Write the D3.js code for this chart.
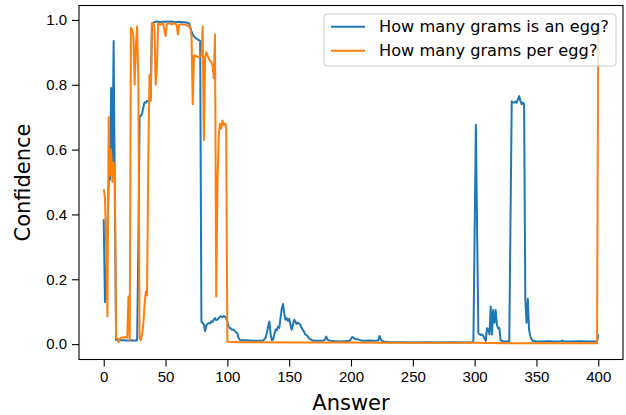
<!DOCTYPE html>
<html>
<head>
	<title>Answer Confidence</title>
	<meta charset="utf-8">
	<script src="https://cdnjs.cloudflare.com/ajax/libs/d3/7.8.5/d3.min.js"></script>
	<style type="text/css">
		body { margin: 0; background: #fff; }
		svg { font-family: "DejaVu Sans", sans-serif; }
		.line { fill: none; stroke-width: 2px; stroke-linejoin: round; }
		.axis path, .axis line { stroke: #000; stroke-width: 1.1px; }
		.axis text { font-size: 15px; fill: #000; }
	</style>
</head>
<body>
	<script type="text/javascript">

		let seriesNames = ['How many grams is an egg?', 'How many grams per egg?'];
		let seriesColors = ['#1f77b4', '#ff7f0e'];
		let xTicks = [0, 50, 100, 150, 200, 250, 300, 350, 400];
		let yTicks = [0, 0.2, 0.4, 0.6, 0.8, 1.0];

		// [answer, confidence]
		let isAnEgg = [
			[0,0.385],[1,0.13],[2,0.2],[3,0.35],[4,0.5],[5,0.51],[6,0.79],[7,0.52],[8,0.935],[9,0.45],
			[10,0.013],[12,0.014],[14,0.012],[16,0.012],[18,0.011],[20,0.011],[22,0.012],[24,0.011],[26,0.011],[27,0.012],
			[28,0.3],[29,0.70],[30,0.705],[31,0.71],[32,0.73],[33,0.745],[34,0.745],[35,0.75],[36,0.75],[37,0.75],[38,0.76],
			[39,0.99],[41,0.993],[43,0.995],[46,0.993],[49,0.995],[52,0.994],[55,0.995],[58,0.993],[61,0.994],[64,0.993],
			[67,0.992],[69,0.99],[70,0.975],[71,0.965],[72,0.955],[73,0.95],[74,0.945],[76,0.94],[78,0.935],
			[79,0.07],[80,0.065],[81,0.06],[82,0.04],[83,0.058],[84,0.062],[85,0.065],[86,0.064],[87,0.07],[88,0.068],
			[89,0.075],[90,0.08],[91,0.074],[92,0.076],[93,0.08],[94,0.084],[95,0.086],[96,0.083],[97,0.087],[98,0.085],
			[99,0.08],[100,0.07],[101,0.054],[102,0.05],[103,0.047],[104,0.044],[105,0.045],[106,0.04],[107,0.036],[108,0.034],
			[109,0.02],[110,0.013],[112,0.012],[115,0.012],[118,0.011],[122,0.01],[126,0.01],[129,0.011],[131,0.02],[132,0.035],
			[133,0.055],[134,0.07],[135,0.03],[136,0.012],[137,0.014],[138,0.03],[139,0.045],[140,0.042],[141,0.054],[142,0.05],
			[143,0.08],[144,0.11],[145,0.124],[146,0.095],[147,0.075],[148,0.08],[149,0.072],[150,0.078],[151,0.06],[152,0.044],
			[153,0.06],[154,0.075],[155,0.07],[156,0.062],[157,0.066],[158,0.064],[159,0.06],[160,0.05],[161,0.044],[162,0.038],
			[163,0.03],[164,0.028],[165,0.024],[166,0.018],[167,0.015],[169,0.011],[172,0.01],[175,0.01],[178,0.011],[179,0.015],
			[180,0.023],[181,0.014],[183,0.01],[187,0.009],[191,0.008],[195,0.009],[199,0.01],[200,0.016],[201,0.022],[202,0.02],
			[203,0.016],[205,0.015],[207,0.013],[209,0.01],[212,0.01],[215,0.011],[219,0.01],[222,0.011],[223,0.025],[224,0.016],
			[225,0.01],[227,0.007],[232,0.006],[240,0.006],[250,0.005],[260,0.006],[270,0.005],[280,0.006],[290,0.005],[298,0.006],
			[299,0.01],[301,0.677],[303,0.034],[304,0.03],[305,0.028],[306,0.03],[307,0.025],[308,0.018],[309,0.01],[310,0.049],
			[311,0.045],[312,0.03],[313,0.116],[314,0.03],[315,0.105],[316,0.066],[317,0.105],[318,0.06],[319,0.048],[320,0.05],
			[321,0.012],[323,0.008],[326,0.008],[328,0.008],[330,0.749],[331,0.745],[332,0.745],[333,0.748],[334,0.745],[335,0.755],
			[336,0.765],[337,0.75],[338,0.74],[339,0.745],[340,0.74],[341,0.137],[342,0.066],[343,0.14],[344,0.045],[345,0.025],
			[346,0.015],[347,0.01],[350,0.008],[355,0.008],[360,0.009],[365,0.008],[370,0.009],[371,0.011],[372,0.009],[378,0.008],
			[385,0.009],[392,0.008],[399,0.008],[400,0.03]
		];

		let perEgg = [
			[0,0.478],[1,0.45],[2,0.3],[3,0.085],[4,0.70],[5,0.52],[6,0.6],[7,0.5],[8,0.56],[9,0.52],
			[10,0.02],[11,0.015],[12,0.006],[13,0.016],[14,0.02],[16,0.02],[18,0.022],[19,0.02],[20,0.147],[21,0.012],
			[22,0.976],[23,0.97],[24,0.95],[25,0.80],[26,0.92],[27,0.98],[28,0.81],[29,0.02],[30,0.012],[31,0.03],
			[32,0.06],[33,0.12],[34,0.162],[35,0.15],[36,0.55],[37,0.83],[38,0.75],[39,0.99],[40,0.99],[41,0.98],
			[42,0.8],[43,0.85],[44,0.99],[46,0.985],[48,0.99],[50,0.95],[51,0.986],[53,0.99],[55,0.986],[57,0.99],
			[59,0.985],[60,0.955],[61,0.985],[63,0.987],[66,0.985],[68,0.982],[70,0.978],[71,0.95],[72,0.74],[73,0.89],
			[75,0.888],[77,0.885],[79,0.89],[80,0.98],[81,0.63],[82,0.885],[83,0.9],[85,0.88],[86,0.875],[87,0.87],
			[88,0.86],[89,0.82],[90,0.955],[91,0.147],[92,0.5],[93,0.64],[94,0.68],[95,0.665],[96,0.69],[97,0.675],
			[98,0.68],[99,0.675],[100,0.007],[110,0.006],[125,0.006],[150,0.005],[175,0.005],[200,0.005],[225,0.004],
			[250,0.004],[275,0.004],[300,0.004],[325,0.003],[350,0.003],[375,0.003],[399,0.003],[400,0.99]
		];

		let series = [isAnEgg, perEgg];

		let width = 626, height = 415;
		let plotLeft = 79, plotRight = 623, plotTop = 5.5, plotBottom = 359.5;

		let svg = d3.select('body').append('svg')
			.attr('width', width)
			.attr('height', height);

		let xScale = d3.scaleLinear().domain([-20, 420]).range([plotLeft, plotRight]);
		let yScale = d3.scaleLinear().domain([-0.0475, 1.0445]).range([plotBottom, plotTop]);

		svg.append('clipPath').attr('id', 'plot')
			.append('rect')
			.attr('x', plotLeft).attr('y', plotTop)
			.attr('width', plotRight - plotLeft).attr('height', plotBottom - plotTop);

		let line = d3.line()
			.x(d => xScale(d[0]))
			.y(d => yScale(d[1]));

		svg.append('g').attr('clip-path', 'url(#plot)')
			.selectAll('path').data(series)
			.enter().append('path')
			.attr('class', 'line')
			.attr('d', line)
			.attr('stroke', (d, i) => seriesColors[i]);

		// axes
		svg.append('g').attr('class', 'axis')
			.attr('transform', `translate(0,${plotBottom})`)
			.call(d3.axisBottom(xScale).tickValues(xTicks).tickSize(7).tickPadding(5).tickSizeOuter(0))
			.select('.domain').remove();

		svg.append('g').attr('class', 'axis')
			.attr('transform', `translate(${plotLeft},0)`)
			.call(d3.axisLeft(yScale).tickValues(yTicks).tickFormat(d3.format('.1f')).tickSize(7).tickPadding(5).tickSizeOuter(0))
			.select('.domain').remove();

		svg.append('rect')
			.attr('x', plotLeft).attr('y', plotTop)
			.attr('width', plotRight - plotLeft).attr('height', plotBottom - plotTop)
			.attr('fill', 'none')
			.attr('stroke', '#000')
			.attr('stroke-width', 1.1);

		svg.append('text')
			.attr('x', (plotLeft + plotRight) / 2)
			.attr('y', 410)
			.attr('text-anchor', 'middle')
			.attr('font-size', 21)
			.text('Answer');

		svg.append('text')
			.attr('transform', `translate(30,${(plotTop + plotBottom) / 2}) rotate(-90)`)
			.attr('text-anchor', 'middle')
			.attr('font-size', 21)
			.text('Confidence');

		// legend
		let legend = svg.append('g');
		legend.append('rect')
			.attr('x', 324).attr('y', 14)
			.attr('width', 292).attr('height', 52)
			.attr('rx', 3)
			.attr('fill', '#fff').attr('fill-opacity', 0.8)
			.attr('stroke', '#ccc');

		let items = legend.selectAll('g.item').data(seriesNames)
			.enter().append('g')
			.attr('class', 'item')
			.attr('transform', (d, i) => `translate(331,${26.7 + i * 24})`);

		items.append('line')
			.attr('x1', 0).attr('x2', 34)
			.attr('stroke', (d, i) => seriesColors[i])
			.attr('stroke-width', 2);

		items.append('text')
			.attr('x', 48)
			.attr('dy', '0.35em')
			.attr('font-size', 16.2)
			.text(d => d);
	</script>
</body>
</html>
